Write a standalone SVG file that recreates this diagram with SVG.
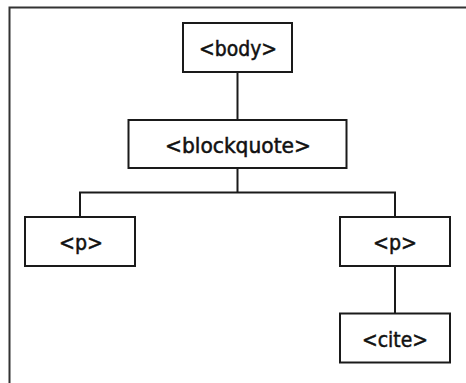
<svg xmlns="http://www.w3.org/2000/svg" width="466" height="383" viewBox="0 0 466 383">
  <style>
    .box { fill: #ffffff; stroke: #1a1a1a; stroke-width: 2; }
    .lbl { font-family: "DejaVu Sans Condensed", "DejaVu Sans", sans-serif; font-stretch: condensed; font-size: 22px; fill: #111111; stroke: #111111; stroke-width: 0.5; text-anchor: middle; }
    .wire { fill: none; stroke: #1a1a1a; stroke-width: 2; }
    .frame { fill: none; stroke: #333333; stroke-width: 2; }
  </style>
  <rect width="466" height="383" fill="#ffffff"/>
  <!-- outer frame, open on the right and bottom -->
  <path class="frame" d="M9.5,383 V7.5 H466"/>

  <g id="connectors">
    <path class="wire" d="M237.5,72 V120"/>
    <path class="wire" d="M237.5,168 V192.5 M80,217 V192.5 H395 V217"/>
    <path class="wire" d="M395,266 V313"/>
  </g>

  <g id="node-body">
    <rect class="box" x="183" y="23" width="109" height="49"/>
    <text class="lbl" x="238" y="56" textLength="78" lengthAdjust="spacingAndGlyphs">&lt;body&gt;</text>
  </g>
  <g id="node-blockquote">
    <rect class="box" x="128.5" y="120" width="218" height="48"/>
    <text class="lbl" x="238" y="152.5" textLength="146" lengthAdjust="spacingAndGlyphs">&lt;blockquote&gt;</text>
  </g>
  <g id="node-p-left">
    <rect class="box" x="25" y="217" width="110" height="49"/>
    <text class="lbl" x="81" y="250" textLength="44" lengthAdjust="spacingAndGlyphs">&lt;p&gt;</text>
  </g>
  <g id="node-p-right">
    <rect class="box" x="340" y="217" width="110" height="49"/>
    <text class="lbl" x="395" y="250" textLength="44" lengthAdjust="spacingAndGlyphs">&lt;p&gt;</text>
  </g>
  <g id="node-cite">
    <rect class="box" x="340" y="313.5" width="110" height="49"/>
    <text class="lbl" x="395" y="346.5" textLength="66" lengthAdjust="spacingAndGlyphs">&lt;cite&gt;</text>
  </g>
</svg>
